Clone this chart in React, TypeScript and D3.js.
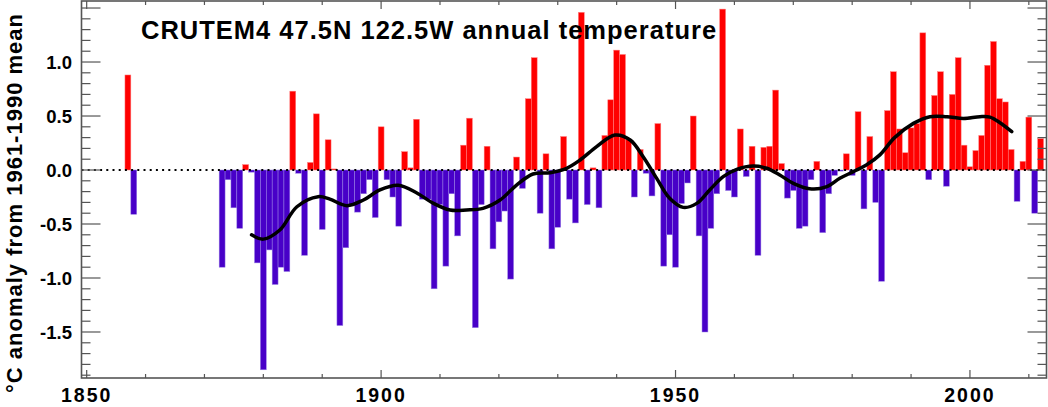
import React from "react";
import * as d3 from "d3";

const years = [
  1857, 1858,
  1873, 1874, 1875, 1876, 1877, 1878, 1879, 1880, 1881, 1882, 1883, 1884, 1885, 1886, 1887, 1888, 1889, 1890,
  1891, 1892, 1893, 1894, 1895, 1896, 1897, 1898, 1899, 1900, 1901, 1902, 1903, 1904, 1905, 1906, 1907, 1908, 1909, 1910,
  1911, 1912, 1913, 1914, 1915, 1916, 1917, 1918, 1919, 1920, 1921, 1922, 1923, 1924, 1925, 1926, 1927, 1928, 1929, 1930,
  1931, 1932, 1933, 1934, 1935, 1936, 1937, 1938, 1939, 1940, 1941, 1942, 1943, 1944, 1945, 1946, 1947, 1948, 1949, 1950,
  1951, 1952, 1953, 1954, 1955, 1956, 1957, 1958, 1959, 1960, 1961, 1962, 1963, 1964, 1965, 1966, 1967, 1968, 1969, 1970,
  1971, 1972, 1973, 1974, 1975, 1976, 1977, 1978, 1979, 1980, 1981, 1982, 1983, 1984, 1985, 1986, 1987, 1988, 1989, 1990,
  1991, 1992, 1993, 1994, 1995, 1996, 1997, 1998, 1999, 2000, 2001, 2002, 2003, 2004, 2005, 2006, 2007, 2008, 2009, 2010,
  2011, 2012,
];

const anomalies = [
  0.88, -0.41,
  -0.90, -0.09, -0.35, -0.54, 0.05, -0.02, -0.86, -1.85, -0.74, -1.06, -0.90, -0.94, 0.73, -0.03, -0.79, 0.07, 0.52, -0.55,
  0.28, 0.01, -1.44, -0.72, -0.32, -0.39, -0.22, -0.09, -0.44, 0.40, -0.09, -0.25, -0.52, 0.17, 0.02, 0.47, -0.27, -0.27, -1.10, -0.32,
  -0.89, -0.22, -0.61, 0.23, 0.48, -1.46, -0.32, 0.22, -0.73, -0.48, -0.38, -1.01, 0.12, -0.17, 0.66, 1.04, -0.40, 0.15, -0.73, -0.53,
  0.31, -0.27, -0.49, 1.46, -0.32, 0.02, -0.35, 0.32, 0.65, 1.11, 1.07, 0.28, -0.25, 0.19, -0.03, -0.24, 0.43, -0.89, -0.60, -0.90,
  -0.31, -0.12, 0.50, -0.61, -1.50, -0.54, -0.22, 1.49, -0.19, -0.25, 0.38, -0.06, 0.22, -0.79, 0.21, 0.22, 0.74, 0.06, -0.26, -0.19,
  -0.54, -0.52, -0.09, 0.08, -0.58, -0.22, -0.05, -0.01, 0.15, -0.05, 0.54, -0.36, 0.31, -0.30, -1.03, 0.55, 0.91, 0.38, 0.16, 0.39,
  0.43, 1.27, -0.09, 0.69, 0.91, -0.15, 0.70, 1.04, 0.23, 0.03, 0.18, 0.32, 0.97, 1.19, 0.66, 0.63, 0.19, -0.29, 0.08, 0.49,
  -0.40, 0.29,
];

const smoothYears = [
  1878.0, 1880.0, 1882.8, 1885.7, 1889.3, 1891.3, 1894.2, 1897.0, 1899.8, 1902.9, 1906.0, 1908.9, 1911.7, 1914.5, 1917.3,
  1920.2, 1923.0, 1925.8, 1928.7, 1931.5, 1933.8, 1936.6, 1939.7, 1942.3, 1944.5, 1946.8, 1949.0, 1951.3, 1953.6, 1955.8,
  1958.1, 1960.4, 1963.2, 1965.5, 1967.7, 1970.0, 1973.1, 1975.7, 1977.9, 1980.2, 1982.4, 1984.7, 1987.2, 1990.4, 1993.2,
  1996.1, 1998.9, 2001.7, 2003.4, 2005.1, 2007.1,
];

const smoothValues = [
  -0.60, -0.64, -0.556, -0.34, -0.247, -0.27, -0.33, -0.278, -0.185, -0.142, -0.21, -0.309, -0.37, -0.37, -0.355,
  -0.278, -0.139, -0.037, -0.025, 0.016, 0.093, 0.216, 0.324, 0.278, 0.123, -0.077, -0.262, -0.346, -0.309, -0.185,
  -0.062, 0.006, 0.037, 0.016, -0.046, -0.123, -0.176, -0.154, -0.077, -0.015, 0.046, 0.14, 0.30, 0.432, 0.494,
  0.494, 0.478, 0.494, 0.49, 0.438, 0.355,
];

const xLabelYears = [1850, 1900, 1950, 2000];
const yLabelValues = [-1.5, -1.0, -0.5, 0.0, 0.5, 1.0];
const titleText = "CRUTEM4 47.5N 122.5W annual temperature";
const yTitleText = "°C anomaly from 1961-1990 mean";

const RED = "#ff0000";
const BLUE = "#4800c8";
const AXIS = "#555555";
const FONT = "'Liberation Sans', Arial, Helvetica, sans-serif";

export default function App() {
  const W = 1048;
  const H = 407;
  const L = 81.5;
  const R = 1046.5;
  const T = 1;
  const B = 378;

  const x = d3.scaleLinear().domain([1849.12, 2013]).range([L, R]);
  const y = d3.scaleLinear().domain([-1.926, 1.565]).range([B, T]);

  const yMinor = d3.range(-19, 16).map((i) => i / 10);
  const xTicks = d3.range(1850, 2011, 10);

  const line = d3
    .line<number>()
    .x((_, i) => x(smoothYears[i]))
    .y((d) => y(d))
    .curve(d3.curveCatmullRom.alpha(0.5));

  return (
    <svg
      width={W}
      height={H}
      style={{ position: "fixed", left: 0, top: 0, background: "#fff" }}
    >
      <rect x={0} y={0} width={W} height={H} fill="#fff" />
      {/* bars */}
      <g>
        {years.map((yr, i) => {
          const v = anomalies[i];
          const x0 = x(yr - 0.5);
          const x1 = x(yr + 0.5);
          const y0 = y(Math.max(0, v));
          const y1 = y(Math.min(0, v));
          return (
            <rect
              key={yr}
              x={x0}
              y={y0}
              width={x1 - x0}
              height={Math.max(0.5, y1 - y0)}
              fill={v >= 0 ? RED : BLUE}
              stroke={v >= 0 ? "#ff8080" : "#9a80e6"}
              strokeWidth={0.5}
            />
          );
        })}
      </g>
      {/* zero dotted line */}
      <line
        x1={L}
        x2={R}
        y1={y(0)}
        y2={y(0)}
        stroke="#000"
        strokeWidth={2}
        strokeDasharray="2 4.2"
      />
      {/* smooth curve */}
      <path d={line(smoothValues) || ""} fill="none" stroke="#000" strokeWidth={3.5} strokeLinejoin="round" strokeLinecap="round" />
      {/* frame */}
      <rect x={L} y={T} width={R - L} height={B - T} fill="none" stroke={AXIS} strokeWidth={1.6} />
      {/* y ticks */}
      {yMinor.map((v) => {
        const major = Math.abs(v * 2 - Math.round(v * 2)) < 1e-6;
        const len = major ? 19 : 9;
        return (
          <g key={v}>
            <line x1={L} x2={L + len} y1={y(v)} y2={y(v)} stroke={AXIS} strokeWidth={1.2} />
            <line x1={R} x2={R - len} y1={y(v)} y2={y(v)} stroke={AXIS} strokeWidth={1.2} />
          </g>
        );
      })}
      {/* x ticks */}
      {xTicks.map((t) => {
        const major = t % 50 === 0;
        const len = major ? 8 : 4;
        return (
          <g key={t}>
            <line x1={x(t)} x2={x(t)} y1={B} y2={B - len} stroke={AXIS} strokeWidth={1.2} />
            <line x1={x(t)} x2={x(t)} y1={T} y2={T + len} stroke={AXIS} strokeWidth={1.2} />
          </g>
        );
      })}
      {/* y labels */}
      {yLabelValues.map((v) => (
        <text
          key={v}
          x={72}
          y={y(v) + 7}
          textAnchor="end"
          fontFamily={FONT}
          fontWeight="bold"
          fontSize={18.5}
          fill="#000"
        >
          {v.toFixed(1)}
        </text>
      ))}
      {/* x labels */}
      {xLabelYears.map((t) => (
        <text
          key={t}
          x={x(t)}
          y={402}
          textAnchor="middle"
          fontFamily={FONT}
          fontWeight="bold"
          fontSize={19.5}
          letterSpacing={2}
          fill="#000"
        >
          {t}
        </text>
      ))}
      {/* title */}
      <text
        x={141}
        y={38.5}
        fontFamily={FONT}
        fontWeight="bold"
        fontSize={25.5}
        letterSpacing={1}
        fill="#000"
      >
        {titleText}
      </text>
      {/* y axis title */}
      <text
        transform={`translate(21.5, 203) rotate(-90)`}
        textAnchor="middle"
        fontFamily={FONT}
        fontWeight="bold"
        fontSize={22}
        letterSpacing={1}
        fill="#000"
      >
        {yTitleText}
      </text>
    </svg>
  );
}
